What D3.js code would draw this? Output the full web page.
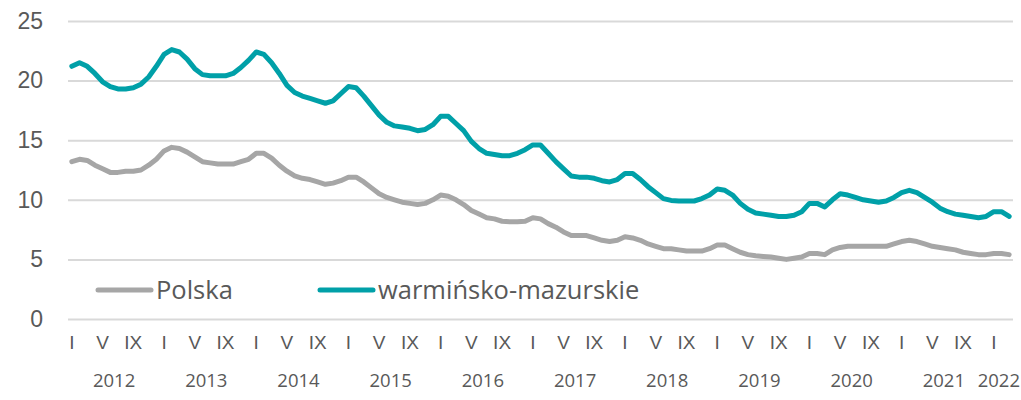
<!DOCTYPE html>
<html>
<head>
<meta charset="utf-8">
<script src="https://cdn.jsdelivr.net/npm/d3@7"></script>
<style>
  body { margin: 0; background: #fff; }
  svg { display: block; font-family: "Open Sans", "Noto Sans", sans-serif; }
</style>
</head>
<body>
<div id="chart"></div>
<script>
// tick labels
const monthLabels = ["I", "II", "III", "IV", "V", "VI", "VII", "VIII", "IX", "X", "XI", "XII"];
const shownMonths = ["I", "V", "IX"];
const years = [2012, 2013, 2014, 2015, 2016, 2017, 2018, 2019, 2020, 2021, 2022];
const yTicks = [0, 5, 10, 15, 20, 25];

// series values, monthly, I 2012 - III 2022
const polska = [
  13.2, 13.4, 13.3, 12.9, 12.6, 12.3, 12.3, 12.4, 12.4, 12.5, 12.9, 13.4,
  14.1, 14.4, 14.3, 14.0, 13.6, 13.2, 13.1, 13.0, 13.0, 13.0, 13.2, 13.4,
  13.9, 13.9, 13.5, 12.9, 12.4, 12.0, 11.8, 11.7, 11.5, 11.3, 11.4, 11.6,
  11.9, 11.9, 11.5, 11.0, 10.5, 10.2, 10.0, 9.8, 9.7, 9.6, 9.7, 10.0,
  10.4, 10.3, 10.0, 9.6, 9.1, 8.8, 8.5, 8.4, 8.2, 8.15, 8.15, 8.2,
  8.5, 8.4, 8.0, 7.7, 7.3, 7.0, 7.0, 7.0, 6.8, 6.6, 6.5, 6.6,
  6.9, 6.8, 6.6, 6.3, 6.1, 5.9, 5.9, 5.8, 5.7, 5.7, 5.7, 5.9,
  6.2, 6.2, 5.9, 5.6, 5.4, 5.3, 5.25, 5.2, 5.1, 5.0, 5.1, 5.2,
  5.5, 5.5, 5.4, 5.8, 6.0, 6.1, 6.1, 6.1, 6.1, 6.1, 6.1, 6.3,
  6.5, 6.6, 6.5, 6.3, 6.1, 6.0, 5.9, 5.8, 5.6, 5.5, 5.4, 5.4,
  5.5, 5.5, 5.4
];
const warminsko = [
  21.2, 21.5, 21.2, 20.6, 19.9, 19.5, 19.3, 19.3, 19.4, 19.7, 20.3, 21.2,
  22.2, 22.6, 22.4, 21.8, 21.0, 20.5, 20.4, 20.4, 20.4, 20.6, 21.1, 21.7,
  22.4, 22.2, 21.5, 20.6, 19.6, 19.0, 18.7, 18.5, 18.3, 18.1, 18.3, 18.9,
  19.5, 19.4, 18.7, 17.9, 17.1, 16.5, 16.2, 16.1, 16.0, 15.8, 15.9, 16.3,
  17.0, 17.0, 16.4, 15.8, 14.9, 14.3, 13.9, 13.8, 13.7, 13.7, 13.9, 14.2,
  14.6, 14.6, 13.9, 13.2, 12.6, 12.0, 11.9, 11.9, 11.8, 11.6, 11.5, 11.7,
  12.2, 12.2, 11.7, 11.1, 10.6, 10.1, 9.95, 9.9, 9.9, 9.9, 10.1, 10.4,
  10.9, 10.8, 10.4, 9.7, 9.2, 8.9, 8.8, 8.7, 8.6, 8.6, 8.7, 9.0,
  9.7, 9.7, 9.4, 10.0, 10.5, 10.4, 10.2, 10.0, 9.9, 9.8, 9.9, 10.2,
  10.6, 10.8, 10.6, 10.2, 9.8, 9.3, 9.0, 8.8, 8.7, 8.6, 8.5, 8.6,
  9.0, 9.0, 8.6
];
const seriesNames = ["Polska", "warmińsko-mazurskie"];
const seriesColors = ["#a6a6a6", "#00a0a8"];

// build one category per month
const periods = polska.map((v, i) => ({
  key: i,
  year: years[Math.floor(i / 12)],
  month: monthLabels[i % 12]
}));

const width = 1021, height = 400;
const margin = { top: 21, right: 8, bottom: 81, left: 68 };

const svg = d3.select("#chart").append("svg")
  .attr("width", width)
  .attr("height", height);

const x = d3.scaleBand()
  .domain(periods.map(d => d.key))
  .range([margin.left, width - margin.right])
  .padding(0);

const y = d3.scaleLinear()
  .domain([0, 25])
  .range([height - margin.bottom, margin.top]);

const cx = i => x(i) + x.bandwidth() / 2;

// gridlines + y labels
const yAxis = svg.append("g")
  .attr("transform", `translate(${margin.left},0)`)
  .call(d3.axisLeft(y).tickValues(yTicks)
    .tickSize(-(width - margin.left - margin.right))
    .tickPadding(25));
yAxis.select(".domain").remove();
yAxis.selectAll(".tick line").attr("stroke", "#d9d9d9").attr("stroke-width", 2);
yAxis.selectAll(".tick text")
  .attr("fill", "#595959")
  .style("font-size", "23px");

// month labels
const monthTicks = periods.filter(d => shownMonths.includes(d.month)).map(d => d.key);
const xAxis = svg.append("g")
  .attr("transform", `translate(0,${y(0)})`)
  .call(d3.axisBottom(x).tickValues(monthTicks)
    .tickFormat(i => periods[i].month)
    .tickSize(0).tickPadding(17));
xAxis.select(".domain").remove();
xAxis.selectAll(".tick text")
  .attr("fill", "#595959")
  .style("font-size", "19px");

// year labels, centred under each year's months
const yearText = svg.append("g").selectAll("text")
  .data(years)
  .join("text")
  .attr("x", yr => {
    const ks = periods.filter(d => d.year === yr).map(d => d.key);
    return (x(ks[0]) + x(ks[ks.length - 1]) + x.bandwidth()) / 2;
  })
  .attr("y", y(0) + 68)
  .attr("text-anchor", "middle")
  .attr("fill", "#595959")
  .style("font-size", "18.5px")
  .text(yr => yr);
// keep the last (short) year inside the picture
yearText.each(function () {
  const t = d3.select(this);
  const half = this.getComputedTextLength() / 2;
  const cxv = +t.attr("x");
  if (cxv + half > width - 1) t.attr("x", width - 1 - half);
});

// lines
const line = d3.line()
  .x((d, i) => cx(i))
  .y(d => y(d));

[polska, warminsko].forEach((vals, s) => {
  svg.append("path")
    .datum(vals)
    .attr("fill", "none")
    .attr("stroke", seriesColors[s])
    .attr("stroke-width", 5)
    .attr("stroke-linejoin", "round")
    .attr("stroke-linecap", "round")
    .attr("d", line);
});

// legend
const legendX = [98, 320];
const legend = svg.append("g").selectAll("g")
  .data(seriesNames)
  .join("g")
  .attr("transform", (d, i) => `translate(${legendX[i]},290)`);
legend.append("line")
  .attr("x1", 0).attr("x2", 53)
  .attr("stroke", (d, i) => seriesColors[i])
  .attr("stroke-width", 5)
  .attr("stroke-linecap", "round");
legend.append("text")
  .attr("x", 58)
  .attr("dy", "0.36em")
  .attr("fill", "#595959")
  .style("font-size", "25.5px")
  .text(d => d);
</script>
</body>
</html>
